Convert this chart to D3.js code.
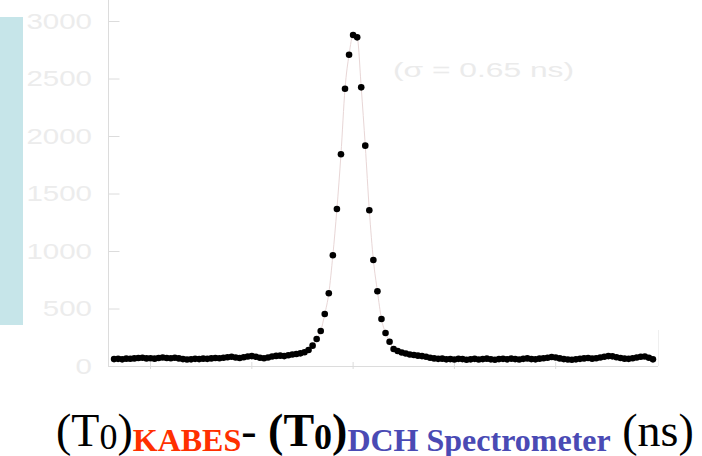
<!DOCTYPE html>
<html>
<head>
<meta charset="utf-8">
<script src="https://cdn.jsdelivr.net/npm/d3@7"></script>
<style>
  html, body { margin: 0; padding: 0; background: #ffffff; }
  svg { display: block; }
  .serif { font-family: 'Liberation Serif', 'Times New Roman', Times, serif; }
  .sans { font-family: 'Liberation Sans', Arial, Helvetica, sans-serif; }
</style>
</head>
<body>
<svg id="chart" width="702" height="456"></svg>
<script>
// Time difference bins (ns): first bin centre and bin width
const binStart = -11.8;
const binWidth = 0.2;

// Counts per 0.2 ns bin
const counts = [
  60, 62, 58, 64, 63, 66, 70, 72, 66, 68,
  64, 70, 74, 70, 68, 72, 66, 60, 56, 58,
  62, 60, 64, 62, 66, 70, 68, 72, 76, 80,
  74, 70, 76, 82, 86, 80, 72, 68, 74, 82,
  88, 90, 86, 94, 100, 104, 110, 119, 139, 177,
  235, 304, 452, 632, 963, 1365, 1841, 2411, 2707, 2878,
  2858, 2423, 1916, 1354, 922, 650, 409, 287, 211, 148,
  130, 117, 109, 100, 96, 90, 86, 80, 72, 66,
  62, 64, 58, 60, 56, 62, 60, 54, 58, 62,
  56, 60, 64, 58, 54, 60, 62, 58, 64, 60,
  56, 62, 66, 60, 58, 64, 68, 72, 78, 74,
  66, 60, 56, 54, 58, 62, 66, 70, 64, 68,
  74, 80, 86, 84, 76, 70, 64, 62, 68, 74,
  80, 82, 72, 58
];

const yTicks = [0, 500, 1000, 1500, 2000, 2500, 3000];
const xTicks = [-10, -5, 0, 5, 10];
const sigmaLabel = "(\u03c3 = 0.65 ns)";

const data = counts.map((c, i) => ({ t: binStart + i * binWidth, c }));

const svg = d3.select("#chart");

// Pale cyan panel at the left edge
svg.append("rect")
  .attr("x", 0).attr("y", 17)
  .attr("width", 23).attr("height", 308)
  .attr("fill", "#c6e5e9");

const x = d3.scaleLinear().domain([-12.1, 15.1]).range([108, 659]);
const y = d3.scaleLinear().domain([0, 3000]).range([366, 21]);

const axisColor = "#dcdcdc";
const labelColor = "#ececec";

// Y axis line and inward ticks
svg.append("line")
  .attr("x1", 108.5).attr("x2", 108.5)
  .attr("y1", 0).attr("y2", y(0))
  .attr("stroke", axisColor).attr("stroke-width", 1);

const yAxis = d3.axisRight(y).tickValues(yTicks).tickSize(11).tickFormat("");
const gy = svg.append("g").attr("transform", "translate(108.5,0)").call(yAxis);
gy.select(".domain").remove();
gy.selectAll(".tick line").attr("stroke", axisColor);

// Y tick labels: light, wide lettering
svg.append("g").selectAll("text")
  .data(yTicks)
  .join("text")
  .attr("class", "sans")
  .attr("x", 92)
  .attr("y", d => y(d))
  .attr("dy", "0.36em")
  .attr("text-anchor", "end")
  .attr("font-size", 22)
  .attr("fill", labelColor)
  .attr("textLength", d => String(d).length * 16.4)
  .attr("lengthAdjust", "spacingAndGlyphs")
  .text(d => d);

// X axis line and small crossing ticks
svg.append("line")
  .attr("x1", 108).attr("x2", 658)
  .attr("y1", y(0) + 0.5).attr("y2", y(0) + 0.5)
  .attr("stroke", axisColor).attr("stroke-width", 1);

svg.append("g").selectAll("line")
  .data(xTicks)
  .join("line")
  .attr("x1", d => x(d)).attr("x2", d => x(d))
  .attr("y1", y(0) - 4).attr("y2", y(0) + 3)
  .attr("stroke", axisColor);

svg.append("line")
  .attr("x1", 658.5).attr("x2", 658.5)
  .attr("y1", 330).attr("y2", y(0))
  .attr("stroke", "#efefef");

// Thin connecting curve
const line = d3.line()
  .x(d => x(d.t))
  .y(d => y(d.c))
  .curve(d3.curveMonotoneX);

svg.append("path")
  .datum(data)
  .attr("d", line)
  .attr("fill", "none")
  .attr("stroke", "#e8d6d6")
  .attr("stroke-width", 1);

// Data markers
svg.append("g").selectAll("circle")
  .data(data)
  .join("circle")
  .attr("cx", d => x(d.t))
  .attr("cy", d => y(d.c))
  .attr("r", 3.3)
  .attr("fill", "#000000");

// Resolution annotation
svg.append("text")
  .attr("class", "sans")
  .attr("x", 393)
  .attr("y", 77)
  .attr("font-size", 20)
  .attr("fill", "#ebebeb")
  .attr("textLength", 181)
  .attr("lengthAdjust", "spacingAndGlyphs")
  .text(sigmaLabel);

// Axis title with coloured subscripts
const title = svg.append("text")
  .attr("class", "serif")
  .attr("x", 56)
  .attr("y", 446)
  .attr("fill", "#000000");

const parts = [
  { s: "(T", size: 46, w: "normal", c: "#000", dy: 0 },
  { s: "0", size: 36, w: "normal", c: "#000", dy: 3 },
  { s: ")", size: 46, w: "normal", c: "#000", dy: -3 },
  { s: "KABES", size: 32, w: "bold", c: "#ff3000", dy: 5 },
  { s: "-\u00a0", size: 46, w: "normal", c: "#000", dy: -5 },
  { s: "(T", size: 46, w: "bold", c: "#000", dy: 0 },
  { s: "0", size: 36, w: "bold", c: "#000", dy: 3 },
  { s: ")", size: 46, w: "bold", c: "#000", dy: -3 },
  { s: "DCH Spectrometer", size: 32, w: "bold", c: "#4a4ab4", dy: 5 },
  { s: "\u00a0(ns)", size: 46, w: "normal", c: "#000", dy: -5 }
];

parts.forEach(p => {
  title.append("tspan")
    .attr("class", "serif")
    .attr("dy", p.dy)
    .attr("font-size", p.size)
    .attr("font-weight", p.w)
    .attr("fill", p.c)
    .text(p.s);
});
</script>
</body>
</html>
